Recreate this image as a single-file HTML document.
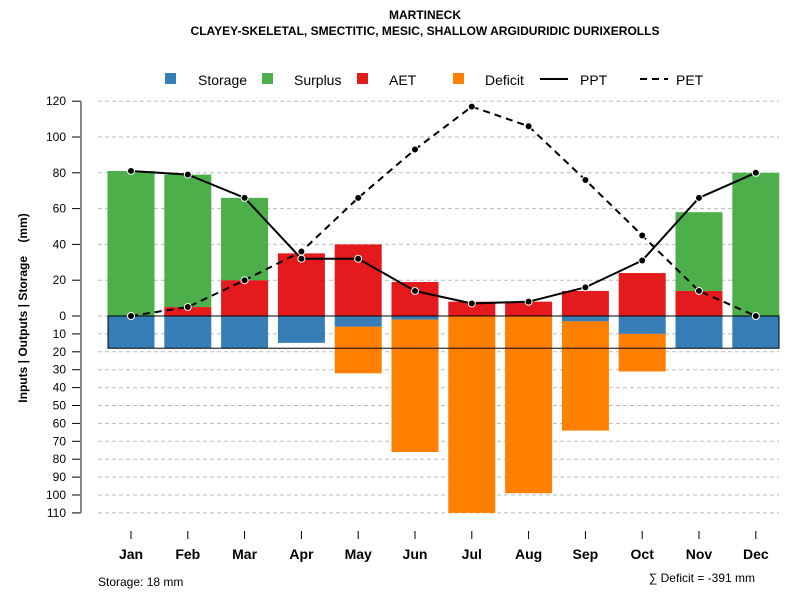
<!DOCTYPE html>
<html><head><meta charset="utf-8"><style>
body{margin:0;background:#fff}
svg text{font-family:"Liberation Sans",sans-serif}
</style></head><body>
<svg id="c" width="800" height="600" xmlns="http://www.w3.org/2000/svg">
<text x="425" y="19" text-anchor="middle" font-size="12" font-weight="bold">MARTINECK</text>
<text x="425" y="35" text-anchor="middle" font-size="12" font-weight="bold">CLAYEY-SKELETAL, SMECTITIC, MESIC, SHALLOW ARGIDURIDIC DURIXEROLLS</text>
<g>
<g><rect x="165" y="73" width="11" height="11" fill="#377EB8"/><text x="198" y="85" font-size="14">Storage</text></g>
<g><rect x="262" y="73" width="11" height="11" fill="#4DAF4A"/><text x="294" y="85" font-size="14">Surplus</text></g>
<g><rect x="357" y="73" width="11" height="11" fill="#E41A1C"/><text x="389" y="85" font-size="14">AET</text></g>
<g><rect x="453" y="73" width="11" height="11" fill="#FF7F00"/><text x="485" y="85" font-size="14">Deficit</text></g>
<g><line x1="540" y1="79" x2="568" y2="79" stroke="#000" stroke-width="2"/><text x="580" y="85" font-size="14">PPT</text></g>
<g><line x1="640" y1="79" x2="668" y2="79" stroke="#000" stroke-width="2" stroke-dasharray="7,5"/><text x="676" y="85" font-size="14">PET</text></g>
</g>
<text transform="translate(27,308) rotate(-90)" text-anchor="middle" font-size="12" font-weight="bold">Inputs | Outputs | Storage &#160;&#160;&#160;(mm)</text>
<text x="98" y="586" font-size="12">Storage: 18 mm</text>
<text x="755" y="582" text-anchor="end" font-size="12">∑ Deficit = -391 mm</text>
<g id="grid"></g><g id="bars"></g><g id="axes"></g><g id="lines"></g>
</svg>
<script>
const months=["Jan","Feb","Mar","Apr","May","Jun","Jul","Aug","Sep","Oct","Nov","Dec"];
const ppt=[81,79,66,32,32,14,7,8,16,31,66,80];
const pet=[0,5,20,36,66,93,117,106,76,45,14,0];
const aet=[0,5,20,35,40,19,8,8,14,24,14,0];
const surplus=[81,74,46,0,0,0,0,0,0,0,44,80];
const storage=[18,18,18,15,6,2,0,0,3,10,18,18];
const deficit=[0,0,0,0,26,74,110,99,61,21,0,0];
const upTicks=[0,20,40,60,80,100,120];
const downTicks=[10,20,30,40,50,60,70,80,90,100,110];
const awc=18;
const NS="http://www.w3.org/2000/svg";
const y0=316,k=1.79;
const Y=v=>y0-v*k;
const X=i=>131+i*56.8;
const bw=47;
function mk(p,t,a){const e=document.createElementNS(NS,t);for(const n in a)e.setAttribute(n,a[n]);document.getElementById(p).appendChild(e);return e;}
upTicks.concat(downTicks.map(d=>-d)).forEach(v=>{
 const l=mk('grid','line',{x1:98,x2:779,y1:Y(v),y2:Y(v),stroke:'#bbb','stroke-dasharray':'4,3'});
 
 
 const t=mk('axes','line',{x1:72,x2:81,y1:Y(v),y2:Y(v),stroke:'#000'});
 
 
 const tx=mk('axes','text',{x:66,y:Y(v)+4,'text-anchor':'end','font-size':12});
 tx.textContent=Math.abs(v);
 
 
});
const ax=mk('axes','line',{x1:81,x2:81,y1:Y(120),y2:Y(-110),stroke:'#888','stroke-width':2});


months.forEach((m,i)=>{
 const x=X(i),l=x-bw/2;
 const r=(y1,y2,c,n)=>{if(Math.abs(y2-y1)<0.01)return;const e=mk('bars','rect',{x:l,y:Math.min(Y(y1),Y(y2)),width:bw,height:Math.abs(Y(y1)-Y(y2)),fill:c});
  
  };
 r(0,aet[i],'#E41A1C','bar-aet-'+m.toLowerCase());
 r(aet[i],aet[i]+surplus[i],'#4DAF4A','bar-surplus-'+m.toLowerCase());
 r(0,-storage[i],'#377EB8','bar-storage-'+m.toLowerCase());
 r(-storage[i],-storage[i]-deficit[i],'#FF7F00','bar-deficit-'+m.toLowerCase());
 const t=mk('axes','line',{x1:x,x2:x,y1:531,y2:539,stroke:'#000'});
 
 
 const tx=mk('axes','text',{x:x,y:559,'text-anchor':'middle','font-size':14,'font-weight':'bold'});
 tx.textContent=m;
 
 
});
const box=mk('bars','rect',{x:108,y:Y(0),width:671,height:awc*k,fill:'none',stroke:'#000'});


function series(arr,dash,name){
 const p=mk('lines','polyline',{points:arr.map((v,i)=>X(i)+','+Y(v)).join(' '),fill:'none',stroke:'#000','stroke-width':2,'stroke-dasharray':dash});
 
 
 arr.forEach((v,i)=>{const c=mk('lines','circle',{cx:X(i),cy:Y(v),r:3.5,fill:'#000',stroke:'#fff','stroke-width':1});
  
  });
}
series(pet,'7,5','pet');
series(ppt,'none','ppt');
</script>
</body></html>
